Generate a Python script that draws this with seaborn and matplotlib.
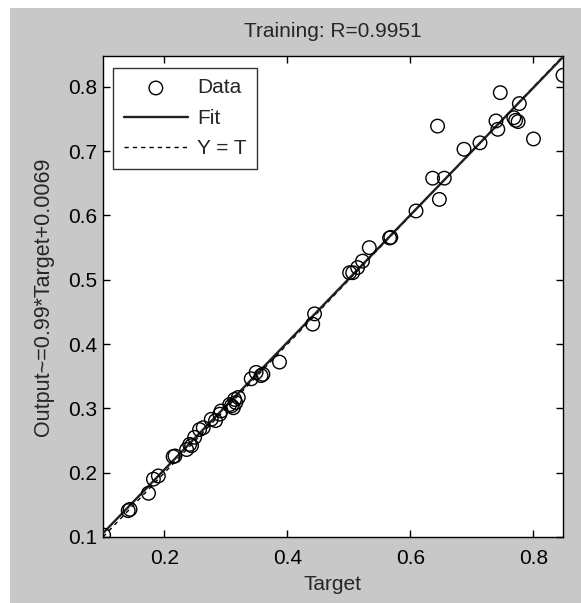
import numpy as np
import pandas as pd
import seaborn as sns
import matplotlib
matplotlib.use("Agg")
import matplotlib.pyplot as plt
from matplotlib.patches import Rectangle

# Training targets and network outputs
target = [0.101, 0.141, 0.144, 0.174, 0.182, 0.190, 0.214, 0.217, 0.236, 0.241,
          0.244, 0.249, 0.257, 0.263, 0.276, 0.283, 0.290, 0.292, 0.306, 0.309,
          0.312, 0.314, 0.316, 0.320, 0.341, 0.349, 0.357, 0.360, 0.387, 0.441,
          0.444, 0.501, 0.506, 0.514, 0.522, 0.533, 0.566, 0.568, 0.609, 0.636,
          0.644, 0.647, 0.655, 0.687, 0.713, 0.739, 0.742, 0.746, 0.768, 0.771,
          0.775, 0.777, 0.800, 0.848]
output = [0.103, 0.141, 0.143, 0.168, 0.190, 0.195, 0.225, 0.226, 0.236, 0.244,
          0.242, 0.255, 0.267, 0.270, 0.283, 0.281, 0.291, 0.296, 0.306, 0.304,
          0.301, 0.314, 0.309, 0.317, 0.346, 0.356, 0.351, 0.353, 0.372, 0.431,
          0.447, 0.511, 0.511, 0.519, 0.529, 0.550, 0.565, 0.566, 0.607, 0.658,
          0.739, 0.625, 0.658, 0.703, 0.713, 0.747, 0.734, 0.791, 0.752, 0.748,
          0.746, 0.774, 0.719, 0.818]

# Linear fit reported on the y label, and correlation in the title
slope = 0.99
intercept = 0.0069
r_value = 0.9951
xticks = [0.2, 0.4, 0.6, 0.8]
yticks = [0.1, 0.2, 0.3, 0.4, 0.5, 0.6, 0.7, 0.8]
lims = [0.1, 0.848]

sns.set_style("white")
plt.rcParams["font.family"] = ["Liberation Sans", "DejaVu Sans"]

gray = "#c8c8c8"
fs = 15
fig = plt.figure(figsize=(5.81, 6.03), dpi=100, facecolor="white")
fig.patches.append(Rectangle((10 / 581, 0), 1, 1 - 8 / 603,
                             transform=fig.transFigure, facecolor=gray,
                             edgecolor="none", zorder=-10))
ax = fig.add_axes([103 / 581, 1 - 537 / 603, (563 - 103) / 581, (537 - 56) / 603])
ax.set_facecolor("white")

data = pd.DataFrame({"Target": target, "Output": output})
lines = pd.DataFrame({"x": lims + lims,
                      "y": [slope * v + intercept for v in lims] + lims,
                      "kind": ["Fit", "Fit", "Y = T", "Y = T"]})

sns.lineplot(data=lines[lines.kind == "Y = T"], x="x", y="y", ax=ax,
             color="black", linestyle=(0, (3, 3)), linewidth=1.0,
             label="Y = T", zorder=2)
sns.lineplot(data=lines[lines.kind == "Fit"], x="x", y="y", ax=ax,
             color="#202020", linewidth=1.7, label="Fit", zorder=3)
sns.scatterplot(data=data, x="Target", y="Output", ax=ax, marker="o",
                s=95, facecolors="none", edgecolor="black", linewidth=1.0,
                label="Data", zorder=4)

ax.set_xlim(lims)
ax.set_ylim(lims)
ax.set_xticks(xticks)
ax.set_yticks(yticks)
ax.set_xticklabels([f"{t:g}" for t in xticks])
ax.set_yticklabels([f"{t:g}" for t in yticks])
ax.tick_params(direction="in", length=5, width=1, labelsize=fs,
               top=True, right=True, bottom=True, left=True, colors="black")
ax.tick_params(axis="x", pad=9)
ax.tick_params(axis="y", pad=4)
for side in ax.spines.values():
    side.set_visible(True)
    side.set_color("black")
    side.set_linewidth(1.0)

ax.set_xlabel("Target", fontsize=fs, labelpad=5)
ax.set_ylabel(f"Output~={slope:g}*Target+{intercept:g}", fontsize=15.5, labelpad=10)
ax.set_title(f"Training: R={r_value:g}", fontsize=fs, pad=14)

handles, labels = ax.get_legend_handles_labels()
order = [labels.index(n) for n in ["Data", "Fit", "Y = T"]]
leg = ax.legend([handles[i] for i in order], [labels[i] for i in order],
                loc="upper left", bbox_to_anchor=(0.022, 0.975), borderaxespad=0,
                fontsize=fs, frameon=True, fancybox=False, edgecolor="black",
                handlelength=3.1, borderpad=0.5, labelspacing=0.55,
                handletextpad=0.45)
leg.get_frame().set_linewidth(1.0)

fig.savefig("out.png", dpi=100, facecolor=fig.get_facecolor())
